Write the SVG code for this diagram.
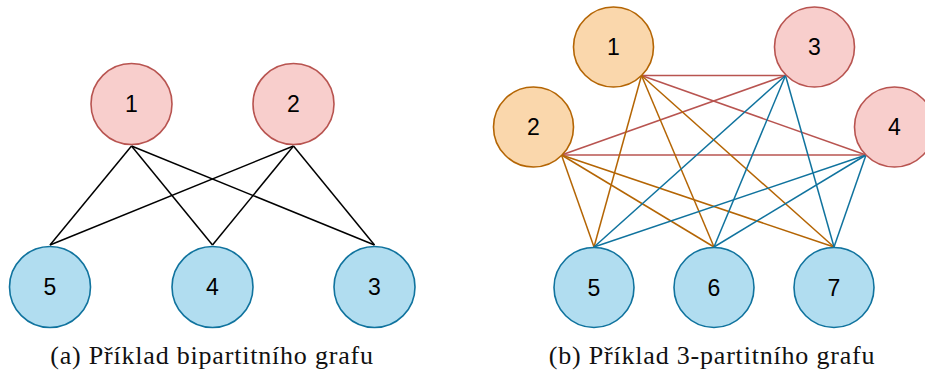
<svg xmlns="http://www.w3.org/2000/svg" width="925" height="378" viewBox="0 0 925 378">
  <style>
    .node circle { stroke-width: 1.6; }
    .red circle { fill: #f8cecc; stroke: #b85450; }
    .orange circle { fill: #fad7ac; stroke: #b46504; }
    .blue circle { fill: #b1ddf0; stroke: #10739e; }
    .node text { font-family: "Liberation Sans", Arial, sans-serif; font-size: 23px; fill: #000; text-anchor: middle; }
    .edges line { stroke-width: 1.5; fill: none; }
    .e-black { stroke: #000; }
    .e-red { stroke: #b85450; }
    .e-orange { stroke: #b46504; }
    .e-blue { stroke: #10739e; }
    .caption { font-family: "Liberation Serif", "Times New Roman", serif; font-size: 26px; letter-spacing: 0.8px; fill: #111; text-anchor: middle; }
  </style>

  <!-- (a) bipartite graph: connectors -->
  <g id="edges-a" class="edges">
    <line class="e-black" x1="131.5" y1="146" x2="50" y2="245"/>
    <line class="e-black" x1="131.5" y1="146" x2="212.5" y2="245"/>
    <line class="e-black" x1="131.5" y1="146" x2="374.5" y2="245"/>
    <line class="e-black" x1="293.5" y1="146" x2="50" y2="245"/>
    <line class="e-black" x1="293.5" y1="146" x2="212.5" y2="245"/>
    <line class="e-black" x1="293.5" y1="146" x2="374.5" y2="245"/>
  </g>

  <!-- (a) nodes -->
  <g id="a-node-1" class="node red"><circle cx="131.5" cy="104" r="40.5"/><text x="131.5" y="112.3">1</text></g>
  <g id="a-node-2" class="node red"><circle cx="293.5" cy="104" r="40.5"/><text x="293.5" y="112.3">2</text></g>
  <g id="a-node-5" class="node blue"><circle cx="50" cy="287" r="40.5"/><text x="50" y="295.3">5</text></g>
  <g id="a-node-4" class="node blue"><circle cx="212.5" cy="287" r="40.5"/><text x="212.5" y="295.3">4</text></g>
  <g id="a-node-3" class="node blue"><circle cx="374.5" cy="287" r="40.5"/><text x="374.5" y="295.3">3</text></g>

  <!-- (b) 3-partite graph: connectors -->
  <g id="edges-b" class="edges">
    <!-- red part {3,4} to orange part {1,2} -->
    <line class="e-red" x1="641.5" y1="75.5" x2="785.5" y2="75.5"/>
    <line class="e-red" x1="641.5" y1="75.5" x2="866" y2="155"/>
    <line class="e-red" x1="561.5" y1="155" x2="785.5" y2="75.5"/>
    <line class="e-red" x1="561.5" y1="155" x2="866" y2="155"/>
    <!-- orange part {1,2} to blue part {5,6,7} -->
    <line class="e-orange" x1="641.5" y1="75.5" x2="594" y2="247"/>
    <line class="e-orange" x1="641.5" y1="75.5" x2="714" y2="247"/>
    <line class="e-orange" x1="641.5" y1="75.5" x2="834" y2="247"/>
    <line class="e-orange" x1="561.5" y1="155" x2="594" y2="247"/>
    <line class="e-orange" x1="561.5" y1="155" x2="714" y2="247"/>
    <line class="e-orange" x1="561.5" y1="155" x2="834" y2="247"/>
    <!-- red part {3,4} to blue part {5,6,7} -->
    <line class="e-blue" x1="785.5" y1="75.5" x2="594" y2="247"/>
    <line class="e-blue" x1="785.5" y1="75.5" x2="714" y2="247"/>
    <line class="e-blue" x1="785.5" y1="75.5" x2="834" y2="247"/>
    <line class="e-blue" x1="866" y1="155" x2="594" y2="247"/>
    <line class="e-blue" x1="866" y1="155" x2="714" y2="247"/>
    <line class="e-blue" x1="866" y1="155" x2="834" y2="247"/>
  </g>

  <!-- (b) nodes -->
  <g id="b-node-1" class="node orange"><circle cx="613.5" cy="47" r="40"/><text x="613.5" y="55.3">1</text></g>
  <g id="b-node-2" class="node orange"><circle cx="533.5" cy="127" r="40"/><text x="533.5" y="135.3">2</text></g>
  <g id="b-node-3" class="node red"><circle cx="814.5" cy="47" r="40"/><text x="814.5" y="55.3">3</text></g>
  <g id="b-node-4" class="node red"><circle cx="894.5" cy="127" r="40"/><text x="894.5" y="135.3">4</text></g>
  <g id="b-node-5" class="node blue"><circle cx="594" cy="287.5" r="40"/><text x="594" y="295.8">5</text></g>
  <g id="b-node-6" class="node blue"><circle cx="714" cy="287.5" r="40"/><text x="714" y="295.8">6</text></g>
  <g id="b-node-7" class="node blue"><circle cx="834" cy="287.5" r="40"/><text x="834" y="295.8">7</text></g>

  <!-- captions -->
  <text class="caption" x="212" y="364">(a) Příklad bipartitního grafu</text>
  <text class="caption" x="712" y="364">(b) Příklad 3-partitního grafu</text>
</svg>
